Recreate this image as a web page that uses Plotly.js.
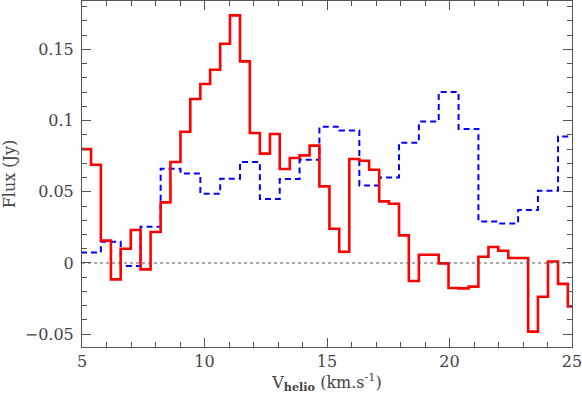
<!DOCTYPE html>
<html>
<head>
<meta charset="utf-8">
<script src="https://cdn.plot.ly/plotly-3.0.1.min.js"></script>
<style>
  html, body { margin: 0; padding: 0; background: #fff; }
  #chart { width: 582px; height: 395px; }
</style>
</head>
<body>
<div id="chart"></div>
<script>
// left edges of the red channels (km/s), last entry is the closing edge
const redEdges = [4.96, 5.37, 5.77, 6.18, 6.58, 6.99, 7.39, 7.80, 8.21, 8.61,
    9.02, 9.42, 9.83, 10.23, 10.64, 11.04, 11.45, 11.85, 12.26, 12.67,
    13.07, 13.48, 13.88, 14.29, 14.69, 15.10, 15.50, 15.91, 16.32, 16.72,
    17.13, 17.53, 17.94, 18.34, 18.75, 19.15, 19.56, 19.96, 20.37, 20.78,
    21.18, 21.59, 21.99, 22.40, 22.80, 23.21, 23.61, 24.02, 24.43, 24.83, 25.24];
const redFlux = [0.080, 0.069, 0.0157, -0.0115, 0.0100, 0.0232, -0.0045, 0.0218, 0.0426, 0.0709,
    0.0922, 0.1152, 0.1257, 0.1357, 0.1540, 0.1739, 0.1416, 0.0913, 0.0768, 0.0906,
    0.0660, 0.0737, 0.0756, 0.0824, 0.0538, 0.0241, 0.0079, 0.0730, 0.0718, 0.0655,
    0.0433, 0.0416, 0.0194, -0.0126, 0.0058, 0.0058, -0.0003, -0.0176, -0.0178, -0.0166,
    0.0044, 0.0112, 0.0086, 0.0035, 0.0035, -0.0482, -0.0237, 0.0011, -0.0147, -0.0305];

// blue spectrum has channels twice as wide
const blueEdges = [4.96, 5.77, 6.58, 7.39, 8.21, 9.02, 9.83, 10.64, 11.45, 12.26,
    13.07, 13.88, 14.69, 15.50, 16.32, 17.13, 17.94, 18.75, 19.56, 20.37,
    21.18, 21.99, 22.80, 23.61, 24.43, 25.24];
const blueFlux = [0.0074, 0.0150, -0.0021, 0.0255, 0.0662, 0.0629, 0.0487, 0.0592, 0.0709, 0.0449,
    0.0590, 0.0725, 0.0957, 0.0931, 0.0545, 0.0601, 0.0845, 0.0994, 0.1201, 0.0941,
    0.0292, 0.0278, 0.0372, 0.0508, 0.0889];

// repeat the last value so the final channel gets its closing step
function stepY(vals) {
    return vals.concat([vals[vals.length - 1]]);
}

const red = {
    x: redEdges,
    y: stepY(redFlux),
    mode: 'lines',
    type: 'scatter',
    line: { shape: 'hv', color: '#ff0000', width: 2.6 },
    hoverinfo: 'skip'
};

const blue = {
    x: blueEdges,
    y: stepY(blueFlux),
    mode: 'lines',
    type: 'scatter',
    line: { shape: 'hv', color: '#0000ff', width: 2, dash: '6px,4px' },
    hoverinfo: 'skip'
};

const axisFont = { family: 'DejaVu Serif, serif', size: 16, color: '#444' };

const layout = {
    width: 582,
    height: 395,
    margin: { l: 82, r: 10, t: 1, b: 48 },
    paper_bgcolor: '#fff',
    plot_bgcolor: '#fff',
    showlegend: false,
    xaxis: {
        range: [5, 25],
        tick0: 5,
        dtick: 5,
        ticks: 'inside',
        ticklen: 9,
        tickcolor: '#555',
        showline: true,
        linecolor: '#555',
        mirror: 'allticks',
        showgrid: false,
        zeroline: false,
        tickfont: axisFont,
        ticklabeloverflow: 'allow',
        minor: { dtick: 1, ticks: 'inside', ticklen: 5, tickcolor: '#555', showgrid: false },
        title: { text: 'V<sub><b>helio</b></sub>&nbsp;(km.s<sup>-1</sup>)', font: axisFont, standoff: 0 }
    },
    yaxis: {
        range: [-0.059, 0.184],
        tick0: 0,
        dtick: 0.05,
        ticks: 'inside',
        ticklen: 9,
        tickcolor: '#555',
        showline: true,
        linecolor: '#555',
        mirror: 'allticks',
        showgrid: false,
        zeroline: false,
        tickfont: axisFont,
        ticklabelstandoff: 4,
        minor: { dtick: 0.01, ticks: 'inside', ticklen: 5, tickcolor: '#555', showgrid: false },
        title: { text: 'Flux (Jy)', font: axisFont, standoff: 16 }
    },
    shapes: [{
        type: 'line', xref: 'x', yref: 'y',
        x0: 5, x1: 25, y0: 0, y1: 0,
        line: { color: '#555', width: 1, dash: 'dot' }
    }]
};

Plotly.newPlot('chart', [blue, red], layout, { displayModeBar: false, staticPlot: true });
</script>
</body>
</html>
